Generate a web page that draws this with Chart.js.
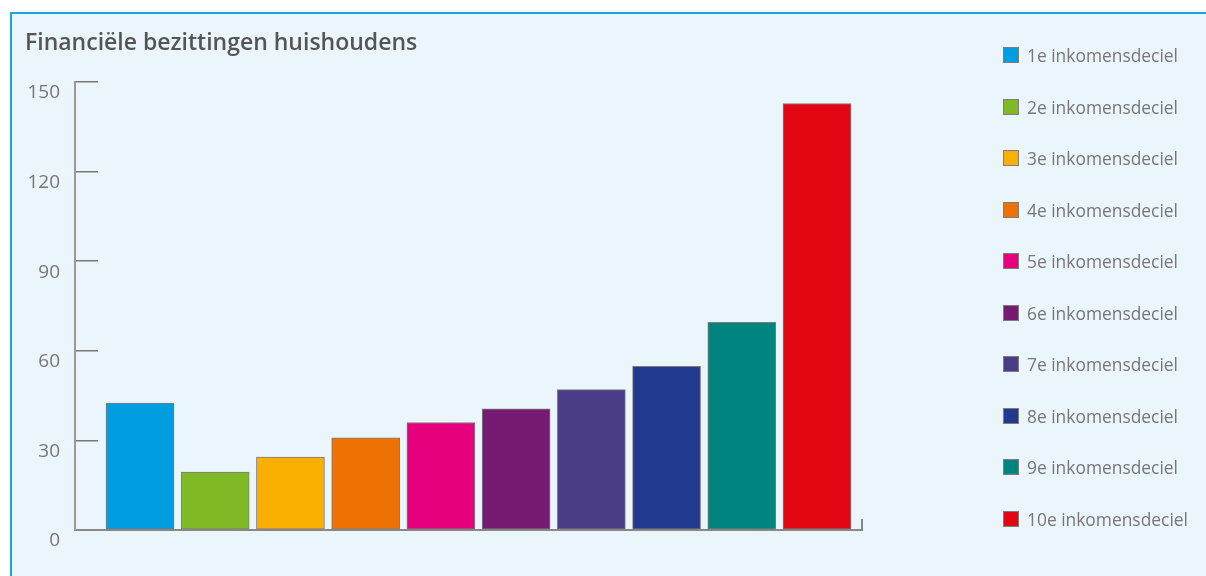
<!DOCTYPE html>
<html lang="nl">
<head>
<meta charset="utf-8">
<meta name="viewport" content="width=device-width, initial-scale=1">
<title>Financiële bezittingen huishoudens</title>
<style>
body { margin: 0; background: #fff; font-family: 'Open Sans', 'DejaVu Sans', sans-serif; }
#box { position: absolute; left: 10px; top: 12px; right: 0; bottom: 0; background: #ebf5fc; border-top: 2px solid #1ba3e3; border-left: 2px solid #1ba3e3; }
#wrap { position: absolute; left: 0; top: 0; width: 1206px; height: 576px; }
#legend { position: absolute; left: 1003px; top: 29.2px; margin: 0; padding: 0; list-style: none; }
#legend li { height: 51.56px; display: flex; align-items: center; font-size: 17.4px; color: #777; white-space: nowrap; }
#legend span { display: inline-block; width: 16px; height: 16px; box-sizing: border-box; border: 1px solid #7d7d7d; margin-right: 8px; }
</style>
</head>
<body>
<div id="box"></div>
<div id="wrap"><canvas id="canvas"></canvas></div>
<ul id="legend"></ul>
<script src="https://cdn.jsdelivr.net/npm/chart.js"></script>
<script>

let TITLE = "Financiële bezittingen huishoudens"

let DECILES = [
    "1e inkomensdeciel", "2e inkomensdeciel", "3e inkomensdeciel", "4e inkomensdeciel",
    "5e inkomensdeciel", "6e inkomensdeciel", "7e inkomensdeciel", "8e inkomensdeciel",
    "9e inkomensdeciel", "10e inkomensdeciel",
]

let VALUES = [42.5, 19.4, 24.4, 30.9, 36.0, 40.6, 47.0, 54.8, 69.5, 142.8]

let COLORS = [
    "#009ee0", "#80ba27", "#f9b000", "#ee7203", "#e6007e",
    "#761b71", "#4b3c88", "#21398e", "#00847f", "#e30613",
]

let Y_TICKS = [0, 30, 60, 90, 120, 150]

let FONT = "'Open Sans', 'DejaVu Sans', sans-serif"

// legend as plain html, one row per deciel
let legend = document.getElementById("legend")
DECILES.forEach((d, i) => {
    let li = document.createElement("li")
    let sw = document.createElement("span")
    sw.style.background = COLORS[i]
    li.appendChild(sw)
    li.appendChild(document.createTextNode(d))
    legend.appendChild(li)
})

let ctx = document.getElementById("canvas")

let chart = new Chart(ctx, {
    type: "bar",
    data: {
        datasets: [{
            label: "Financiële bezittingen",
            data: VALUES.map((v, i) => ({ x: i, y: v })),
            backgroundColor: COLORS,
            borderColor: "#7d7d7d",
            borderWidth: 1,
            borderSkipped: false,
            barThickness: 68,
        }]
    },
    options: {
        responsive: true,
        maintainAspectRatio: false,
        animation: false,
        layout: { padding: { left: 25, top: 12, right: 344, bottom: 0 } },
        scales: {
            x: {
                type: "linear",
                min: -0.864,
                max: 9.598,
                offset: false,
                afterBuildTicks: s => { s.ticks = [{ value: s.min }, { value: s.max }] },
                afterFit: s => { s.height = 46 },
                ticks: { display: false },
                grid: { offset: false, drawOnChartArea: false, tickLength: -11, color: "#888", lineWidth: 2 },
                border: { color: "#888", width: 2 },
            },
            y: {
                min: 0,
                max: 150,
                afterBuildTicks: s => { s.ticks = Y_TICKS.map(v => ({ value: v })) },
                // ticks point inward, so the label padding must not push the chart area
                afterFit: s => { s.width = 50; s.paddingTop = 0; s.paddingBottom = 0 },
                ticks: {
                    color: "#777",
                    font: { family: FONT, size: 19 },
                    padding: 38,
                    labelOffset: 11,
                },
                grid: { drawOnChartArea: false, tickLength: -23, color: "#777", lineWidth: 1.5 },
                border: { color: "#999", width: 2 },
            },
        },
        plugins: {
            title: {
                display: true,
                text: TITLE,
                align: "start",
                color: "#555",
                font: { family: FONT, size: 23, weight: "600" },
                padding: { top: 17.2, bottom: 25.2 },
            },
            legend: { display: false },
            tooltip: { enabled: false },
        },
    },
})

</script>
</body>
</html>
